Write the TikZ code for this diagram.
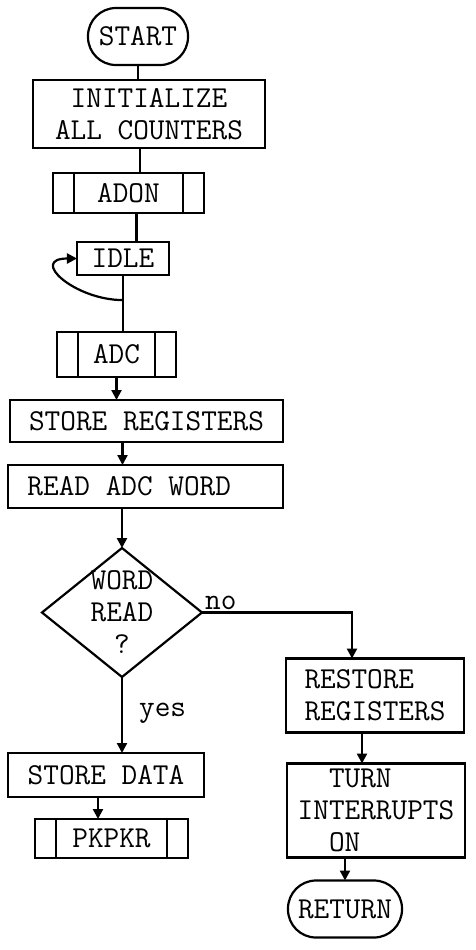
\documentclass[tikz,border=0pt]{standalone}
\usepackage{fontspec}
\usetikzlibrary{arrows.meta,positioning,calc,shapes.geometric}
\tikzset{
  box/.style={draw, line width=1.1pt, align=center, inner sep=2pt, outer sep=0pt,
    font=\ttfamily\fontsize{15.2pt}{16pt}\selectfont},
  term/.style={box, rounded corners=14pt, minimum width=50pt, minimum height=28.5pt},
  subr/.style={box},
  decision/.style={draw, line width=1.1pt, diamond, inner sep=0pt, outer sep=0pt,
    minimum width=80pt, minimum height=64.5pt},
  txt/.style={font=\ttfamily\fontsize{15.2pt}{16pt}\selectfont, align=center, inner sep=1pt},
  link/.style={line width=1.1pt},
  arrow/.style={link, -{Triangle[length=5pt,width=5pt]}},
}
\begin{document}
\begin{tikzpicture}
\useasboundingbox (-69pt,18.25pt) rectangle (169pt,-456.75pt);

\node[term] (start) {START};
\node[box, minimum width=116pt, minimum height=34pt, below=7.5pt of start, xshift=5.5pt]
  (init) {INITIALIZE\\ALL COUNTERS};
\node[subr, minimum width=75.5pt, minimum height=20pt, below=12.5pt of init, xshift=-10.25pt]
  (adon) {ADON};
\node[box, minimum width=46pt, minimum height=16.5pt, below=14.5pt of adon, xshift=-2.75pt]
  (idle) {IDLE};
\node[subr, minimum width=59.5pt, minimum height=22.5pt, below=28.5pt of idle, xshift=-3.25pt]
  (adc) {ADC};
\node[box, minimum width=136.5pt, minimum height=21pt, below=11.5pt of adc, xshift=15pt]
  (storeregs) {STORE REGISTERS};
\node[box, text width=118pt, inner xsep=9.75pt, align=flush left, minimum height=21.5pt,
  below=11.5pt of storeregs, xshift=-0.5pt] (readadc) {READ ADC WORD};

\node[decision, below=20pt of readadc, xshift=-11.75pt] (dec) {};
\node[txt] at (dec) {WORD\\READ\\?};

\node[box, minimum width=98pt, minimum height=22pt, below=38pt of dec, xshift=-8pt]
  (storedata) {STORE DATA};
\node[subr, minimum width=76.5pt, minimum height=19.5pt, below=11pt of storedata, xshift=2.75pt]
  (pkpkr) {PKPKR};

\node[box, align=left, minimum width=89pt, minimum height=37pt, right=42pt of dec, yshift=-41.5pt]
  (restore) {RESTORE\\REGISTERS};
\node[box, align=left, minimum width=89pt, minimum height=47pt, below=15.5pt of restore, xshift=0.5pt]
  (turn) {\phantom{IN}TURN\\INTERRUPTS\\\phantom{IN}ON};
\node[term, minimum width=57pt, below=11.5pt of turn, xshift=-15.5pt] (ret) {RETURN};

% side bars of the subroutine boxes
\foreach \sub in {adon, adc, pkpkr} {
  \draw[link] ([xshift=10.5pt]\sub.north west) -- ([xshift=10.5pt]\sub.south west);
  \draw[link] ([xshift=-10.5pt]\sub.north east) -- ([xshift=-10.5pt]\sub.south east);
}

\draw[link] (start) -- (start |- init.north);
\draw[link] ([xshift=-4.5pt]init.south) -- ([xshift=-4.5pt]init.south |- adon.north);
\draw[link] ([xshift=4pt]adon.south) -- ([xshift=4pt]adon.south |- idle.north);
\draw[link] (idle) -- (idle |- adc.north);
\coordinate (idleloop) at ($(idle.south)!0.44!(idle.south |- adc.north)$);
\draw[arrow] (idleloop) to[out=180, in=180, looseness=2] (idle.west);
\draw[arrow] (adc) -- (adc |- storeregs.north);
\draw[arrow] ([xshift=-12pt]storeregs.south) -- ([xshift=-12pt]storeregs.south |- readadc.north);
\draw[arrow] (dec |- readadc.south) -- (dec.north);

\draw[arrow] (dec.east) node[txt, above right] {no} -| ([xshift=-11.5pt]restore.north);
\draw[arrow] (dec.south) -- node[txt, right=7pt, pos=0.48] {yes} (dec.south |- storedata.north);
\draw[arrow] ([xshift=-4pt]storedata.south) -- ([xshift=-4pt]storedata.south |- pkpkr.north);
\draw[arrow] ([xshift=-6.5pt]restore.south) -- ([xshift=-6.5pt]restore.south |- turn.north);
\draw[arrow] (ret |- turn.south) -- (ret);

\end{tikzpicture}
\end{document}
